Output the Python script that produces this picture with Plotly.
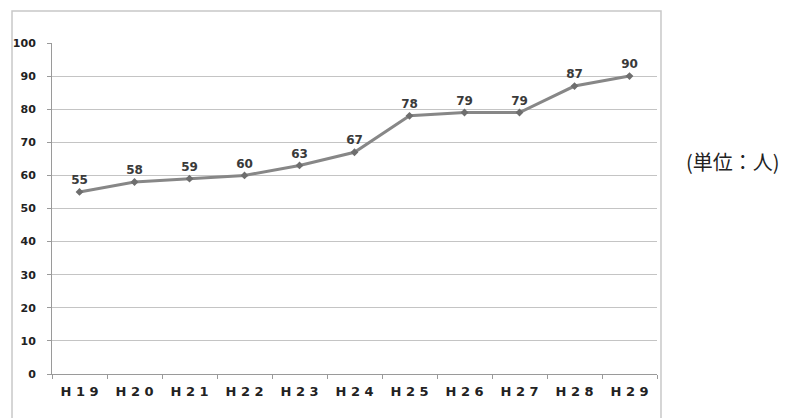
import plotly.graph_objects as go

categories = ["H19", "H20", "H21", "H22", "H23", "H24", "H25", "H26", "H27", "H28", "H29"]
values = [55, 58, 59, 60, 63, 67, 78, 79, 79, 87, 90]
y_ticks = [0, 10, 20, 30, 40, 50, 60, 70, 80, 90, 100]
unit_label = "(単位：人)"

tick_text = ["\u00a0".join(list(c)) for c in categories]

# page offset of 8px (body margin) is compensated in margins
fig = go.Figure()
fig.add_trace(go.Scatter(
    x=categories, y=values,
    mode="lines+markers+text",
    line=dict(color="#878787", width=3),
    marker=dict(symbol="diamond", size=6, color="#6e6e6e"),
    text=[str(v) for v in values],
    textposition="top center",
    textfont=dict(family="DejaVu Sans", size=12, color="#3a3a3a", weight="bold"),
    cliponaxis=False,
    showlegend=False,
))

fig.update_layout(
    width=782, height=410,
    margin=dict(l=44, r=133, t=35, b=44),
    paper_bgcolor="white", plot_bgcolor="white",
    xaxis=dict(
        type="category",
        tickvals=categories, ticktext=tick_text,
        showgrid=False,
        showline=True, linecolor="#9a9a9a", linewidth=1,
        ticks="outside", tickson="boundaries", ticklen=4, tickcolor="#9a9a9a",
        tickfont=dict(family="DejaVu Sans", size=13, color="#222222", weight="bold"),
        ticklabelstandoff=5,
        automargin=False,
        range=[-0.5, 10.5],
    ),
    yaxis=dict(
        range=[0, 100],
        tickvals=y_ticks,
        showgrid=True, gridcolor="#c4c4c4", gridwidth=1,
        showline=True, linecolor="#9a9a9a", linewidth=1,
        ticks="outside", ticklen=4, tickcolor="#9a9a9a",
        tickfont=dict(family="DejaVu Sans", size=11, color="#222222", weight="bold"),
        ticklabelstandoff=9,
        automargin=False,
        zeroline=False,
    ),
    shapes=[dict(
        type="rect", xref="paper", yref="paper",
        x0=-0.0661, x1=1.0066, y0=-0.2, y1=1.0967,
        line=dict(color="#c8c8c8", width=1.5),
    )],
    annotations=[dict(
        xref="paper", yref="paper",
        x=(733 - 52) / 605, y=(374 - 161) / 331,
        text=unit_label, showarrow=False,
        font=dict(family="Noto Sans CJK JP", size=20, color="#222222"),
        xanchor="center", yanchor="middle",
    )],
)

fig.write_html("out.html")
